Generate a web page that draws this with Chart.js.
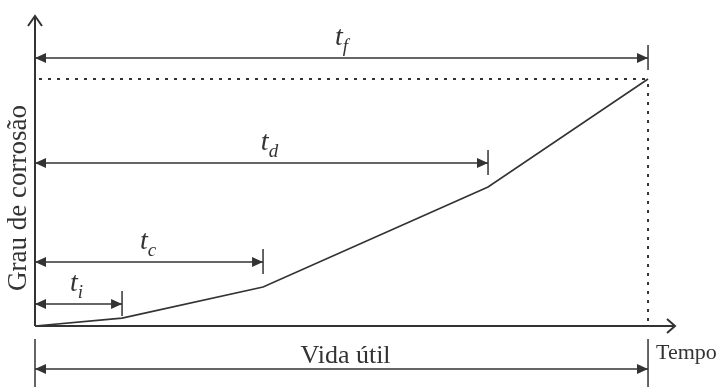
<!DOCTYPE html>
<html>
<head>
<meta charset="utf-8">
<script src="https://cdn.jsdelivr.net/npm/chart.js@4.4.1/dist/chart.umd.min.js"></script>
<style>
  html, body { margin: 0; padding: 0; background: #fff; }
  #wrap { width: 721px; height: 387px; }
</style>
</head>
<body>
<div id="wrap"><canvas id="grafico"></canvas></div>
<script>
// pontos da curva (tempo, grau de corrosão)
const tempo = [0, 14.2, 37.2, 73.9, 100];
const grau = [0, 3.2, 15.8, 56.3, 100];
// etapas marcadas com cotas
const etapas = ['i', 'c', 'd', 'f'];
const fimEtapa = [14.2, 37.2, 73.9, 100];

const cor = '#333';
const serif = '"Liberation Serif", "DejaVu Serif", serif';

function seta(ctx, x, y, dir) {
  ctx.beginPath();
  ctx.moveTo(x, y);
  ctx.lineTo(x + dir * 11, y - 5);
  ctx.lineTo(x + dir * 11, y + 5);
  ctx.closePath();
  ctx.fill();
}

function cota(ctx, xa, xb, y) {
  ctx.lineWidth = 1.5;
  ctx.beginPath();
  ctx.moveTo(xa, y);
  ctx.lineTo(xb, y);
  ctx.stroke();
  seta(ctx, xa, y, 1);
  seta(ctx, xb, y, -1);
}

const esquema = {
  id: 'esquema',
  afterDatasetsDraw(chart, args, opts) {
    const { ctx, scales: { x, y }, chartArea } = chart;
    const x0 = x.getPixelForValue(0);
    const y0 = y.getPixelForValue(0);
    const xf = x.getPixelForValue(tempo[tempo.length - 1]);
    const yf = y.getPixelForValue(grau[grau.length - 1]);
    ctx.save();
    ctx.strokeStyle = cor;
    ctx.fillStyle = cor;

    // linhas pontilhadas até o ponto final
    ctx.lineWidth = 2;
    ctx.setLineDash([3, 6]);
    ctx.beginPath();
    ctx.moveTo(x0 + 4, yf);
    ctx.lineTo(xf, yf);
    ctx.moveTo(xf, yf + 5);
    ctx.lineTo(xf, y0);
    ctx.stroke();
    ctx.setLineDash([]);

    // eixos com setas abertas
    ctx.lineWidth = 2;
    ctx.beginPath();
    ctx.moveTo(x0, y0);
    ctx.lineTo(x0, chartArea.top);
    ctx.moveTo(x0 - 7, chartArea.top + 10);
    ctx.lineTo(x0, chartArea.top);
    ctx.lineTo(x0 + 7, chartArea.top + 10);
    ctx.moveTo(x0, y0);
    ctx.lineTo(chartArea.right, y0);
    ctx.moveTo(chartArea.right - 8, y0 - 7);
    ctx.lineTo(chartArea.right, y0);
    ctx.lineTo(chartArea.right - 8, y0 + 7);
    ctx.stroke();

    // cotas das etapas
    fimEtapa.forEach((t, i) => {
      const xb = x.getPixelForValue(t);
      const yl = y.getPixelForValue(opts.niveis[i]);
      cota(ctx, x0, xb, yl);
      ctx.lineWidth = 1.5;
      ctx.beginPath();
      ctx.moveTo(xb, yl - 13);
      ctx.lineTo(xb, yl + 12);
      ctx.stroke();
      // rótulo t com índice
      ctx.font = 'italic 28px ' + serif;
      const wt = ctx.measureText('t').width;
      ctx.font = 'italic 19px ' + serif;
      const ws = ctx.measureText(etapas[i]).width;
      const cx = (x0 + xb) / 2 + opts.desloc[i];
      const lx = cx - (wt + ws) / 2;
      ctx.textAlign = 'left';
      ctx.textBaseline = 'alphabetic';
      ctx.font = 'italic 28px ' + serif;
      ctx.fillText('t', lx, yl - 13);
      ctx.font = 'italic 19px ' + serif;
      ctx.fillText(etapas[i], lx + wt, yl - 6);
    });

    // vida útil
    const yv = y0 + 43;
    cota(ctx, x0, xf, yv);
    ctx.lineWidth = 1.5;
    ctx.beginPath();
    ctx.moveTo(x0, y0 + 13);
    ctx.lineTo(x0, chart.height);
    ctx.moveTo(xf, y0 + 13);
    ctx.lineTo(xf, chart.height);
    ctx.stroke();
    ctx.font = '26px ' + serif;
    ctx.textAlign = 'center';
    ctx.textBaseline = 'alphabetic';
    ctx.fillText('Vida útil', (x0 + xf) / 2 + 4, yv - 6);

    ctx.font = '22px ' + serif;
    ctx.textAlign = 'left';
    ctx.fillText('Tempo', xf + 8, y0 + 33);

    ctx.translate(19, 198);
    ctx.rotate(-Math.PI / 2);
    ctx.font = '27px ' + serif;
    ctx.textAlign = 'center';
    ctx.textBaseline = 'middle';
    ctx.fillText('Grau de corrosão', 0, 0);
    ctx.restore();
  }
};

new Chart(document.getElementById('grafico'), {
  type: 'scatter',
  plugins: [esquema],
  data: {
    datasets: [{
      data: tempo.map((t, i) => ({ x: t, y: grau[i] })),
      showLine: true,
      borderColor: cor,
      borderWidth: 1.6,
      pointRadius: 0,
      tension: 0
    }]
  },
  options: {
    responsive: true,
    maintainAspectRatio: false,
    animation: false,
    events: [],
    layout: { padding: { left: 35, right: 46, top: 16, bottom: 61 } },
    plugins: {
      legend: { display: false },
      tooltip: { enabled: false },
      esquema: {
        niveis: [8.9, 25.9, 66, 108.5],
        desloc: [-2, -1, 8, 0]
      }
    },
    scales: {
      x: { type: 'linear', display: false, min: 0, max: 104.4 },
      y: { type: 'linear', display: false, min: 0, max: 125.5 }
    }
  }
});
</script>
</body>
</html>
